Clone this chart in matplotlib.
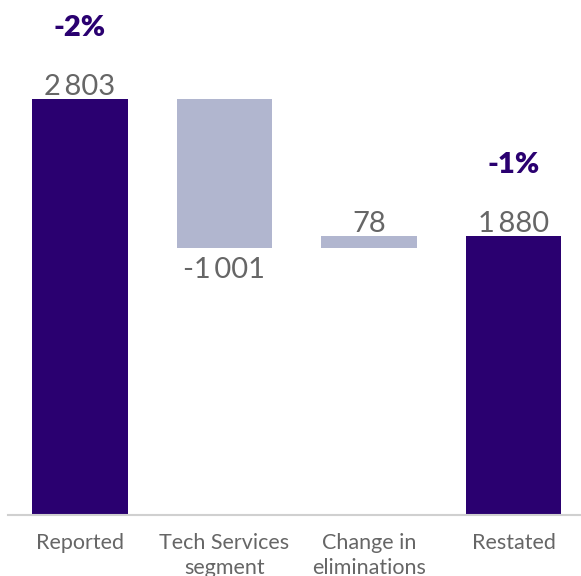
import numpy as np
import matplotlib
matplotlib.use("Agg")
import matplotlib.pyplot as plt

categories = ["Reported", "Tech Services\nsegment", "Change in\neliminations", "Restated"]
values = [2803, -1001, 78, 1880]
is_total = [True, False, False, True]
value_labels = ["2\u2009803", "-1\u2009001", "78", "1\u2009880"]
pct_labels = {0: "-2%", 3: "-1%"}

dark = "#2a0070"
light = "#b1b6cf"
grey = "#666666"

plt.rcParams['font.family'] = ['Lato', 'DejaVu Sans']

# waterfall bottoms
bottoms = []
running = 0
for v, tot in zip(values, is_total):
    if tot:
        bottoms.append(0)
        running = v
    else:
        if v >= 0:
            bottoms.append(running)
        else:
            bottoms.append(running + v)
        running += v
heights = [abs(v) for v in values]
colors = [dark if t else light for t in is_total]

fig = plt.figure(figsize=(5.81, 5.76), dpi=100)
ax = fig.add_axes([8 / 581, 61 / 576, 573 / 581, 515 / 576])
x = np.arange(len(categories))
ax.bar(x, heights, bottom=bottoms, width=0.664, color=colors)

for i in range(len(values)):
    top = bottoms[i] + heights[i]
    if values[i] >= 0:
        ax.annotate(value_labels[i], (x[i], top), xytext=(0, 3), textcoords='offset points',
                    ha='center', va='baseline', fontsize=21, color=grey)
    else:
        ax.annotate(value_labels[i], (x[i], bottoms[i]), xytext=(0, -21.6), textcoords='offset points',
                    ha='center', va='baseline', fontsize=21, color=grey)
    if i in pct_labels:
        ax.annotate(pct_labels[i], (x[i], top), xytext=(0, 45), textcoords='offset points',
                    ha='center', va='baseline', fontsize=21, color=dark, fontweight='heavy')

ax.set_xlim(-0.498, 3.467)
ax.set_ylim(0, 3470)
ax.set_xticks(x)
ax.set_xticklabels(categories, fontsize=15.5, color=grey, linespacing=1.3)
ax.tick_params(axis='x', length=0, pad=13)
ax.set_yticks([])
for s in ['top', 'right', 'left']:
    ax.spines[s].set_visible(False)
ax.spines['bottom'].set_color('#d0d0d0')
ax.spines['bottom'].set_linewidth(1.5)

fig.savefig("out.png", dpi=100)
